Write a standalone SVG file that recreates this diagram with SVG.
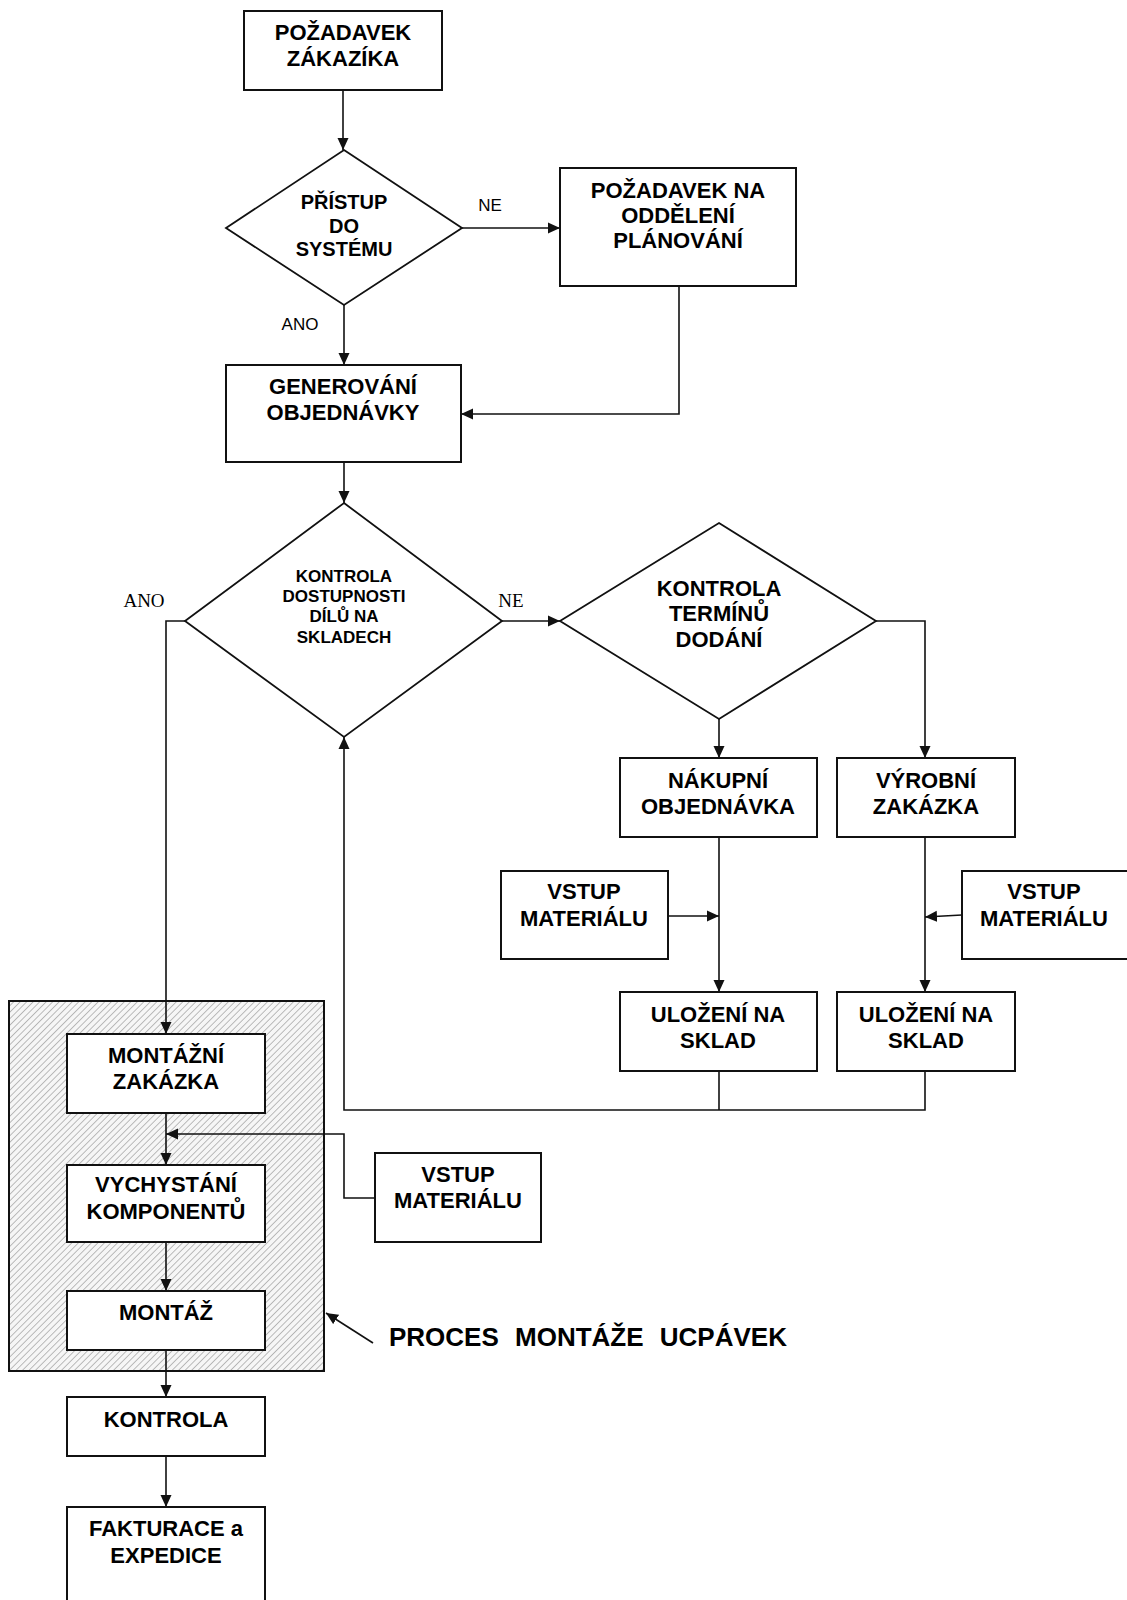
<svg xmlns="http://www.w3.org/2000/svg" width="1127" height="1600" viewBox="0 0 1127 1600">
  <style>
    .box { fill: #ffffff; stroke: #111111; stroke-width: 2; }
    .dia { fill: #ffffff; stroke: #111111; stroke-width: 1.8; }
    .t { font-family: "Liberation Sans", Arial, sans-serif; font-weight: bold; font-size: 22px; fill: #000; text-anchor: middle; }
    .t20 { font-size: 20px; }
    .t17 { font-size: 17px; }
    .lbl { font-family: "Liberation Sans", Arial, sans-serif; font-size: 17px; fill: #000; text-anchor: middle; }
    .lbls { font-family: "Liberation Serif", "Times New Roman", serif; font-size: 19px; fill: #000; text-anchor: middle; }
    .c { fill: none; stroke: #111111; stroke-width: 1.6; }
    .ca { fill: none; stroke: #111111; stroke-width: 1.6; marker-end: url(#arrow); }
  </style>
  <defs>
    <marker id="arrow" viewBox="0 0 12 12" refX="12" refY="6" markerWidth="12" markerHeight="12" markerUnits="userSpaceOnUse" orient="auto">
      <path d="M0,0.5 L12,6 L0,11.5 Z" fill="#111111"/>
    </marker>
    <pattern id="hatch" patternUnits="userSpaceOnUse" width="4.6" height="4.6" patternTransform="rotate(45)">
      <rect width="4.6" height="4.6" fill="#f6f6f6"/>
      <line x1="0" y1="0" x2="0" y2="4.6" stroke="#9a9a9a" stroke-width="1.3"/>
    </pattern>
  </defs>

  <rect width="1127" height="1600" fill="#ffffff"/>

  <!-- assembly process area -->
  <g id="group-montaz">
    <rect x="9" y="1001" width="315" height="370" fill="url(#hatch)" stroke="#111111" stroke-width="2"/>
  </g>

  <!-- connectors -->
  <g id="connectors">
    <path class="ca" d="M343,90 L343,150"/>
    <path class="ca" d="M462,228 L560,228"/>
    <path class="ca" d="M344,305 L344,365"/>
    <path class="ca" d="M679,286 L679,414 L461,414"/>
    <path class="ca" d="M344,462 L344,503"/>
    <path class="ca" d="M185,621 L166,621 L166,1034"/>
    <path class="ca" d="M502,621 L560,621"/>
    <path class="ca" d="M719,719 L719,758"/>
    <path class="ca" d="M876,621 L925,621 L925,758"/>
    <path class="ca" d="M719,837 L719,992"/>
    <path class="ca" d="M925,837 L925,992"/>
    <path class="ca" d="M668,916 L719,916"/>
    <path class="ca" d="M962,915 L925,917"/>
    <path class="c" d="M719,1071 L719,1110"/>
    <path class="ca" d="M925,1071 L925,1110 L344,1110 L344,737"/>
    <path class="ca" d="M166,1113 L166,1165"/>
    <path class="ca" d="M375,1198 L344,1198 L344,1134 L166,1134"/>
    <path class="ca" d="M166,1242 L166,1291"/>
    <path class="ca" d="M166,1350 L166,1397"/>
    <path class="ca" d="M166,1456 L166,1507"/>
    <path class="ca" d="M373,1343 L326,1313"/>
  </g>

  <!-- branch labels -->
  <g id="labels">
    <text class="lbl" x="490" y="211">NE</text>
    <text class="lbl" x="300" y="330">ANO</text>
    <text class="lbls" x="144" y="607">ANO</text>
    <text class="lbls" x="511" y="607">NE</text>
  </g>

  <g id="n-pozadavek-zakaznika">
    <rect class="box" x="244" y="11" width="198" height="79"/>
    <text class="t" x="343" y="40">POŽADAVEK</text>
    <text class="t" x="343" y="66">ZÁKAZÍKA</text>
  </g>

  <g id="n-pristup">
    <polygon class="dia" points="344,150 462,228 344,305 226,228"/>
    <text class="t t20" x="344" y="209">PŘÍSTUP</text>
    <text class="t t20" x="344" y="233">DO</text>
    <text class="t t20" x="344" y="256">SYSTÉMU</text>
  </g>

  <g id="n-planovani">
    <rect class="box" x="560" y="168" width="236" height="118"/>
    <text class="t" x="678" y="198">POŽADAVEK NA</text>
    <text class="t" x="678" y="223">ODDĚLENÍ</text>
    <text class="t" x="678" y="248">PLÁNOVÁNÍ</text>
  </g>

  <g id="n-generovani">
    <rect class="box" x="226" y="365" width="235" height="97"/>
    <text class="t" x="343" y="394">GENEROVÁNÍ</text>
    <text class="t" x="343" y="420">OBJEDNÁVKY</text>
  </g>

  <g id="n-dostupnost">
    <polygon class="dia" points="344,503 502,621 344,737 185,621"/>
    <text class="t t17" x="344" y="582">KONTROLA</text>
    <text class="t t17" x="344" y="602">DOSTUPNOSTI</text>
    <text class="t t17" x="344" y="622">DÍLŮ NA</text>
    <text class="t t17" x="344" y="643">SKLADECH</text>
  </g>

  <g id="n-termin">
    <polygon class="dia" points="719,523 876,621 719,719 560,621"/>
    <text class="t" x="719" y="596">KONTROLA</text>
    <text class="t" x="719" y="621">TERMÍNŮ</text>
    <text class="t" x="719" y="647">DODÁNÍ</text>
  </g>

  <g id="n-nakupni">
    <rect class="box" x="620" y="758" width="197" height="79"/>
    <text class="t" x="718" y="788">NÁKUPNÍ</text>
    <text class="t" x="718" y="814">OBJEDNÁVKA</text>
  </g>

  <g id="n-vyrobni">
    <rect class="box" x="837" y="758" width="178" height="79"/>
    <text class="t" x="926" y="788">VÝROBNÍ</text>
    <text class="t" x="926" y="814">ZAKÁZKA</text>
  </g>

  <g id="n-vstup-1">
    <rect class="box" x="501" y="871" width="167" height="88"/>
    <text class="t" x="584" y="899">VSTUP</text>
    <text class="t" x="584" y="926">MATERIÁLU</text>
  </g>

  <g id="n-vstup-2">
    <rect class="box" x="962" y="871" width="170" height="88"/>
    <text class="t" x="1044" y="899">VSTUP</text>
    <text class="t" x="1044" y="926">MATERIÁLU</text>
  </g>

  <g id="n-ulozeni-1">
    <rect class="box" x="620" y="992" width="197" height="79"/>
    <text class="t" x="718" y="1022">ULOŽENÍ NA</text>
    <text class="t" x="718" y="1048">SKLAD</text>
  </g>

  <g id="n-ulozeni-2">
    <rect class="box" x="837" y="992" width="178" height="79"/>
    <text class="t" x="926" y="1022">ULOŽENÍ NA</text>
    <text class="t" x="926" y="1048">SKLAD</text>
  </g>

  <g id="n-montazni-zakazka">
    <rect class="box" x="67" y="1034" width="198" height="79"/>
    <text class="t" x="166" y="1063">MONTÁŽNÍ</text>
    <text class="t" x="166" y="1089">ZAKÁZKA</text>
  </g>

  <g id="n-vychystani">
    <rect class="box" x="67" y="1165" width="198" height="77"/>
    <text class="t" x="166" y="1192">VYCHYSTÁNÍ</text>
    <text class="t" x="166" y="1219">KOMPONENTŮ</text>
  </g>

  <g id="n-vstup-3">
    <rect class="box" x="375" y="1153" width="166" height="89"/>
    <text class="t" x="458" y="1182">VSTUP</text>
    <text class="t" x="458" y="1208">MATERIÁLU</text>
  </g>

  <g id="n-montaz">
    <rect class="box" x="67" y="1291" width="198" height="59"/>
    <text class="t" x="166" y="1320">MONTÁŽ</text>
  </g>

  <g id="n-kontrola">
    <rect class="box" x="67" y="1397" width="198" height="59"/>
    <text class="t" x="166" y="1427">KONTROLA</text>
  </g>

  <g id="n-fakturace">
    <rect class="box" x="67" y="1507" width="198" height="110"/>
    <text class="t" x="166" y="1536">FAKTURACE a</text>
    <text class="t" x="166" y="1563">EXPEDICE</text>
  </g>

  <g id="caption">
    <text x="389" y="1346" font-family="Liberation Sans, Arial, sans-serif" font-weight="bold" font-size="26" word-spacing="9" fill="#000">PROCES MONTÁŽE UCPÁVEK</text>
  </g>
</svg>
